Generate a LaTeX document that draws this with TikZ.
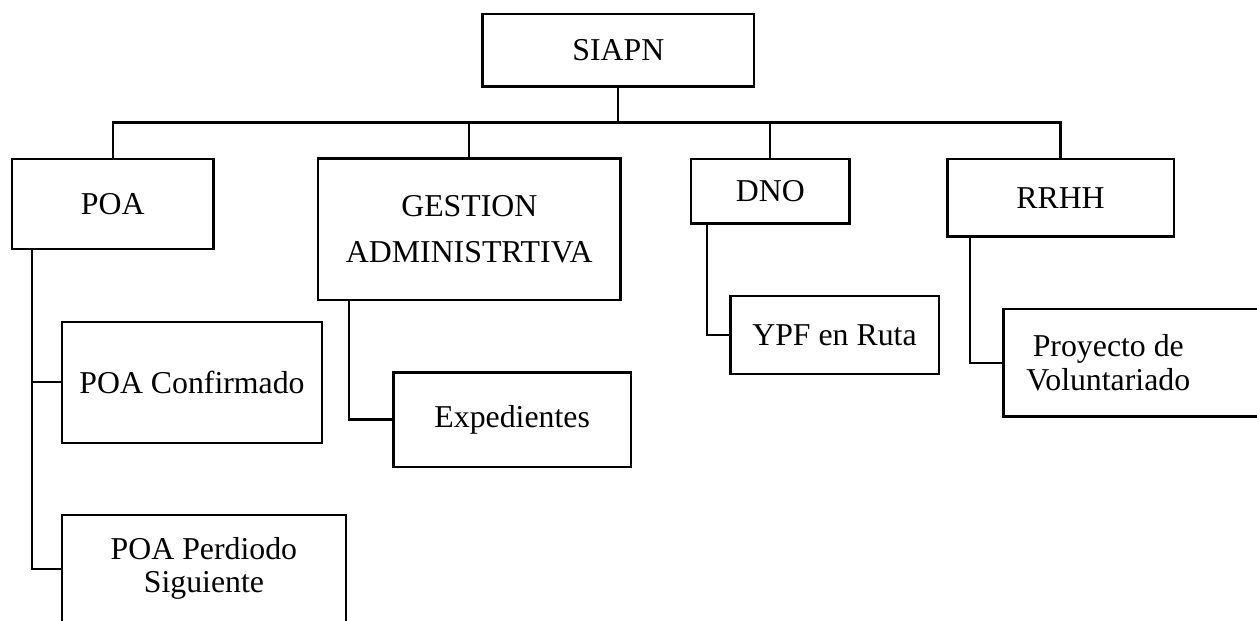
\documentclass[tikz,border=0pt]{standalone}
\usepackage{fontspec}
\setmainfont{Liberation Serif}
\usetikzlibrary{calc}
\begin{document}
\begin{tikzpicture}[x=0.02cm, y=-0.02cm,
  orgbox/.style={draw=black, line width=1.35pt, fill=white, inner sep=0pt,
    align=center, font=\fontsize{18.1}{18.8}\selectfont},
  label text/.style={inner sep=0pt, align=center, font=\fontsize{18.1}{18.8}\selectfont},
  link/.style={draw=black, line width=1.35pt, line join=miter}]
\useasboundingbox (0,0) rectangle (1257,620);

% top level
\node[orgbox, minimum width=5.426cm, minimum height=1.454cm] (siapn) at (618.3,50.3) {SIAPN};

% second level
\node[orgbox, minimum width=4.026cm, minimum height=1.8cm] (poa) at (112.7,203.7) {POA};
\node[orgbox, minimum width=6.054cm, minimum height=2.826cm,
  font=\fontsize{18.1}{26.6}\selectfont] (gest) at (469.3,229.3) {GESTION\\ADMINISTRTIVA};
\node[orgbox, minimum width=3.174cm, minimum height=1.286cm] (dno) at (770.3,191.2) {DNO};
\node[orgbox, minimum width=4.528cm, minimum height=1.554cm] (rrhh) at (1060.5,197.8) {RRHH};

% third level
\node[orgbox, minimum width=5.2cm, minimum height=2.42cm] (conf) at (192,382.2) {POA Confirmado};
\node[orgbox, minimum width=5.674cm, minimum height=2.152cm] (perd) at (203.9,568.8) {POA Perdiodo\\Siguiente};
\node[orgbox, minimum width=4.754cm, minimum height=1.888cm] (exp) at (512.2,419.5) {Expedientes};
\node[orgbox, minimum width=4.168cm, minimum height=1.572cm] (ypf) at (834.5,335) {YPF en Ruta};
\node[orgbox, minimum width=5.434cm, minimum height=2.146cm] (proy) at (1139.2,362.7) {};
\node[label text] (proytext) at (1108.3,362.7) {Proyecto de\\Voluntariado};

% horizontal bus under the top box
\coordinate (bus) at (0,122.5);
\draw[link] (siapn.south) -- (siapn.south |- bus);
\draw[link] (poa.north) -- (poa.north |- bus) -- (rrhh.north |- bus) -- (rrhh.north);
\draw[link] (gest.north) -- (gest.north |- bus);
\draw[link] (dno.north) -- (dno.north |- bus);

% vertical spines to the children
\coordinate (poaspine) at (32.3,0);
\coordinate (gestspine) at (349,0);
\coordinate (dnospine) at (706.7,0);
\coordinate (rrhhspine) at (969.7,0);
\draw[link] (poaspine |- poa.south) |- (perd.west);
\draw[link] (poaspine |- conf.west) -- (conf.west);
\draw[link] (gestspine |- gest.south) |- (exp.west);
\draw[link] (dnospine |- dno.south) |- (ypf.west);
\draw[link] (rrhhspine |- rrhh.south) |- (proy.west);
\end{tikzpicture}
\end{document}
